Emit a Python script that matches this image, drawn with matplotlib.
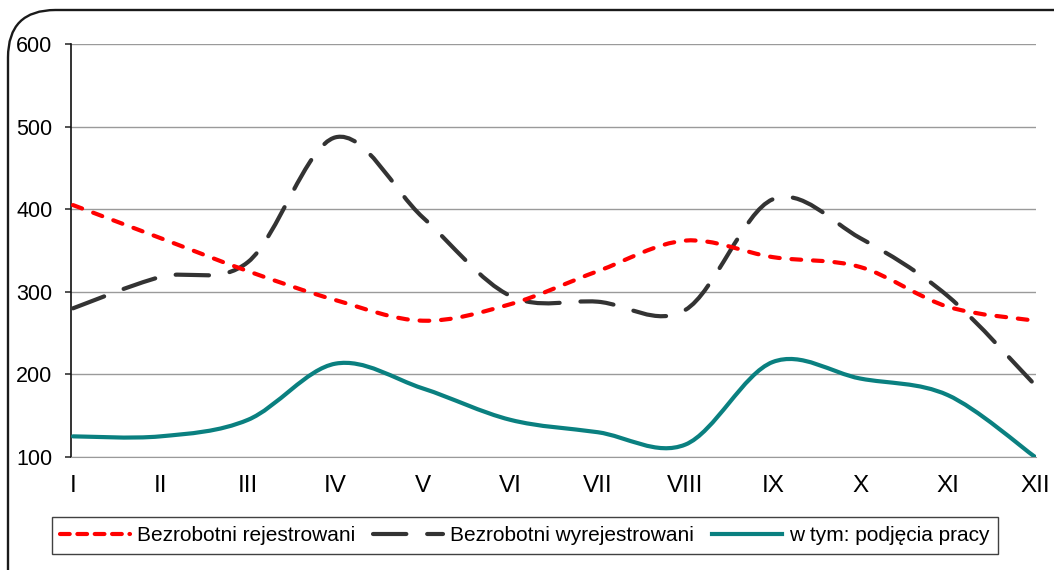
import numpy as np
import matplotlib.pyplot as plt
from matplotlib.path import Path
from matplotlib.patches import PathPatch, FancyBboxPatch
from matplotlib.lines import Line2D

plt.rcParams["font.family"] = ["Liberation Sans", "DejaVu Sans"]
plt.rcParams["lines.scale_dashes"] = False

months = ["I", "II", "III", "IV", "V", "VI", "VII", "VIII", "IX", "X", "XI", "XII"]
rejestrowani = [405, 365, 325, 290, 265, 285, 325, 362, 342, 330, 282, 265]
wyrejestrowani = [280, 318, 336, 487, 390, 295, 288, 278, 412, 365, 295, 187]
podjecia = [125, 125, 145, 213, 183, 145, 130, 115, 215, 195, 175, 100]
labels = ["Bezrobotni rejestrowani", "Bezrobotni wyrejestrowani", "w tym: podjęcia pracy"]


def smooth_path(xs, ys):
    # gładka linia jak w Excelu: odcinki Beziera (Catmull-Rom)
    p = np.column_stack([xs, ys]).astype(float)
    n = len(p)
    verts = [p[0]]
    codes = [Path.MOVETO]
    for i in range(n - 1):
        p0 = p[i - 1] if i > 0 else p[i]
        p3 = p[i + 2] if i + 2 < n else p[i + 1]
        c1 = p[i] + (p[i + 1] - p0) / 6.0
        c2 = p[i + 1] - (p3 - p[i]) / 6.0
        verts += [c1, c2, p[i + 1]]
        codes += [Path.CURVE4] * 3
    return Path(verts, codes)


fig = plt.figure(figsize=(10.54, 5.70), dpi=100)
ax = fig.add_axes([71 / 1054, 1 - 457 / 570, (1036 - 71) / 1054, (457 - 44) / 570])

# ramka z zaokrąglonymi rogami
frame = FancyBboxPatch((8 / 1054, -0.2), 1.2, 1 - 10 / 570 + 0.2,
                       boxstyle="round,pad=0,rounding_size=0.045",
                       transform=fig.transFigure, facecolor="none",
                       edgecolor="#1a1a1a", linewidth=1.7, clip_on=False, mutation_aspect=1.85)
fig.patches.append(frame)

x = np.arange(1, len(months) + 1)
styles = [
    dict(color="#FF0000", dashes=(0, (7, 8.5))),
    dict(color="#333333", dashes=(0, (24, 15))),
    dict(color="#0A8080", dashes=None),
]
for ys, st in zip([wyrejestrowani, rejestrowani, podjecia], [styles[1], styles[0], styles[2]]):
    patch = PathPatch(smooth_path(x, ys), facecolor="none", edgecolor=st["color"],
                      linewidth=3.0, capstyle="round", joinstyle="round", zorder=3)
    if st["dashes"] is not None:
        patch.set_linestyle(st["dashes"])
    ax.add_patch(patch)

ax.set_xlim(0.977, 12.01)
ax.set_ylim(100, 600)
ax.set_yticks([100, 200, 300, 400, 500, 600])
ax.set_xticks(x)
ax.set_xticklabels(months)
ax.grid(axis="y", color="#9a9a9a", linewidth=1.0)
ax.set_axisbelow(True)
for s in ["top", "right"]:
    ax.spines[s].set_visible(False)
ax.spines["bottom"].set_color("#9a9a9a")
ax.spines["left"].set_color("#111111")
ax.spines["left"].set_linewidth(1.2)
ax.tick_params(axis="y", length=4.3, width=1.2, color="#333333", pad=9, labelsize=15.5)
ax.tick_params(axis="x", length=0, pad=13, labelsize=17.5)

handles = [
    Line2D([], [], color="#FF0000", linewidth=3.0, dashes=(7, 5.5), dash_capstyle="round"),
    Line2D([], [], color="#333333", linewidth=3.0, dashes=(24, 15), dash_capstyle="round"),
    Line2D([], [], color="#0A8080", linewidth=3.0),
]
leg = fig.legend(handles, labels, loc="center", bbox_to_anchor=(525 / 1054, 1 - 535.5 / 570),
                 ncol=3, fontsize=15, handlelength=3.36, handletextpad=0.34,
                 columnspacing=0.85, frameon=True, fancybox=False, borderpad=0.42,
                 borderaxespad=0)
leg.get_frame().set_edgecolor("#111111")
leg.get_frame().set_linewidth(1.0)

fig.savefig("out.png", dpi=100)
